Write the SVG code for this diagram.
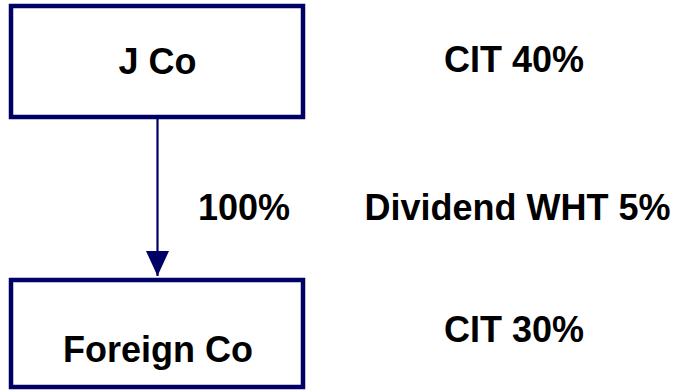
<svg xmlns="http://www.w3.org/2000/svg" width="677" height="391" viewBox="0 0 677 391">
<style>
.box{fill:#ffffff;stroke:#000066;stroke-width:4.5}
.t{font-family:"Liberation Sans",Arial,sans-serif;font-weight:bold;font-size:36px;fill:#000000;text-anchor:middle}
.conn{stroke:#000066;stroke-width:2.2;fill:none}
</style>
<defs>
<marker id="arr" markerUnits="userSpaceOnUse" markerWidth="26" markerHeight="24" refX="25" refY="12" orient="auto" viewBox="0 0 26 24">
<path d="M0,0.5 L25,12 L0,23.5 Z" fill="#000066"/>
</marker>
</defs>
<rect width="677" height="391" fill="#ffffff"/>
<g id="connectors">
<path class="conn" d="M157.5,119 L157.5,276" marker-end="url(#arr)"/>
</g>
<g id="jco">
<rect class="box" x="11" y="6" width="292" height="111"/>
<text class="t" x="157.5" y="73.5">J Co</text>
</g>
<g id="foreignco">
<rect class="box" x="11" y="280" width="292" height="107"/>
<text class="t" x="158" y="361.5">Foreign Co</text>
</g>
<g id="labels">
<text class="t" x="244" y="220">100%</text>
<text class="t" x="517.5" y="220">Dividend WHT 5%</text>
<text class="t" x="514" y="71.5">CIT 40%</text>
<text class="t" x="514" y="341.5">CIT 30%</text>
</g>
</svg>
